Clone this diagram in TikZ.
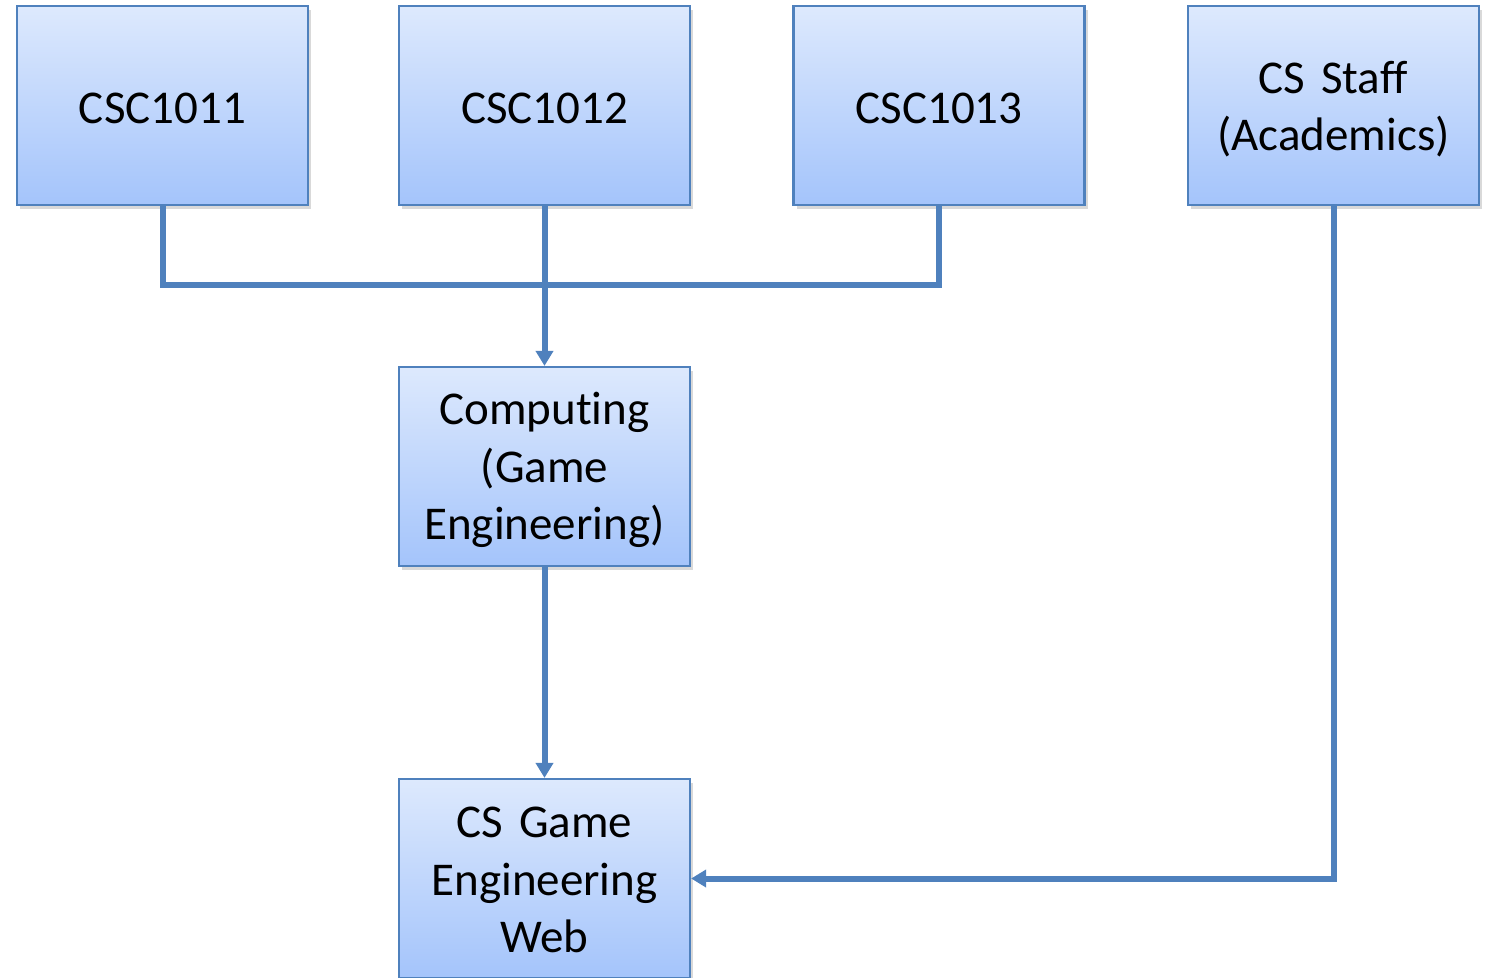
\documentclass[tikz,border=0pt]{standalone}
\usepackage{fontspec}
\setmainfont[Ligatures=NoCommon]{Carlito}
\usetikzlibrary{arrows.meta,shadows}
\definecolor{edgeblue}{RGB}{79,129,189}
\definecolor{topblue}{RGB}{221,233,253}
\definecolor{botblue}{RGB}{164,196,251}
\tikzset{
  box/.style={draw=edgeblue, line width=2.2pt, top color=topblue, bottom color=botblue,
    minimum width=291pt, minimum height=199pt, inner sep=0pt,
    drop shadow={shadow xshift=3pt, shadow yshift=-4pt, opacity=0.25, fill=black!60}},
  lbl/.style={inner sep=0pt, text width=280pt, align=center,
    font=\fontsize{47}{57.5}\selectfont},
  conn/.style={draw=edgeblue, line width=6pt, line join=miter},
  arr/.style={conn, -{Triangle[width=17pt,length=15pt]}},
}
\begin{document}
\begin{tikzpicture}[x=1pt,y=-1pt]
\useasboundingbox (0,0) rectangle (1488,977);
\node[box] (c1) at (162.5,105.5) {};
\node[box] (c2) at (544.5,105.5) {};
\node[box] (c3) at (939,105.5) {};
\node[box] (staff) at (1333.5,105.5) {};
\node[box] (comp) at (544.5,466.5) {};
\node[box] (web) at (544.5,878.5) {};
\node[lbl] (c1t) at ([yshift=-3pt]c1.center) {CSC1011};
\node[lbl] (c2t) at ([yshift=-3pt]c2.center) {CSC1012};
\node[lbl] (c3t) at ([yshift=-3pt]c3.center) {CSC1013};
\node[lbl] (stafft) at ([yshift=-3.5pt]staff.center) {CS Staff\\(Academics)};
\node[lbl] (compt) at ([yshift=-3.5pt]comp.center) {Computing\\(Game\\Engineering)};
\node[lbl] (webt) at ([yshift=-1.5pt]web.center) {CS Game\\Engineering\\Web};
\coordinate (bus) at (544.5,285);
\draw[conn] (c1.south) -- (c1.south |- bus) -- (c3.south |- bus) -- (c3.south);
\draw[arr] (c2.south) -- (comp.north);
\draw[arr] (comp.south) -- (web.north);
\draw[arr] (staff.south) |- (web.east);
\end{tikzpicture}
\end{document}
